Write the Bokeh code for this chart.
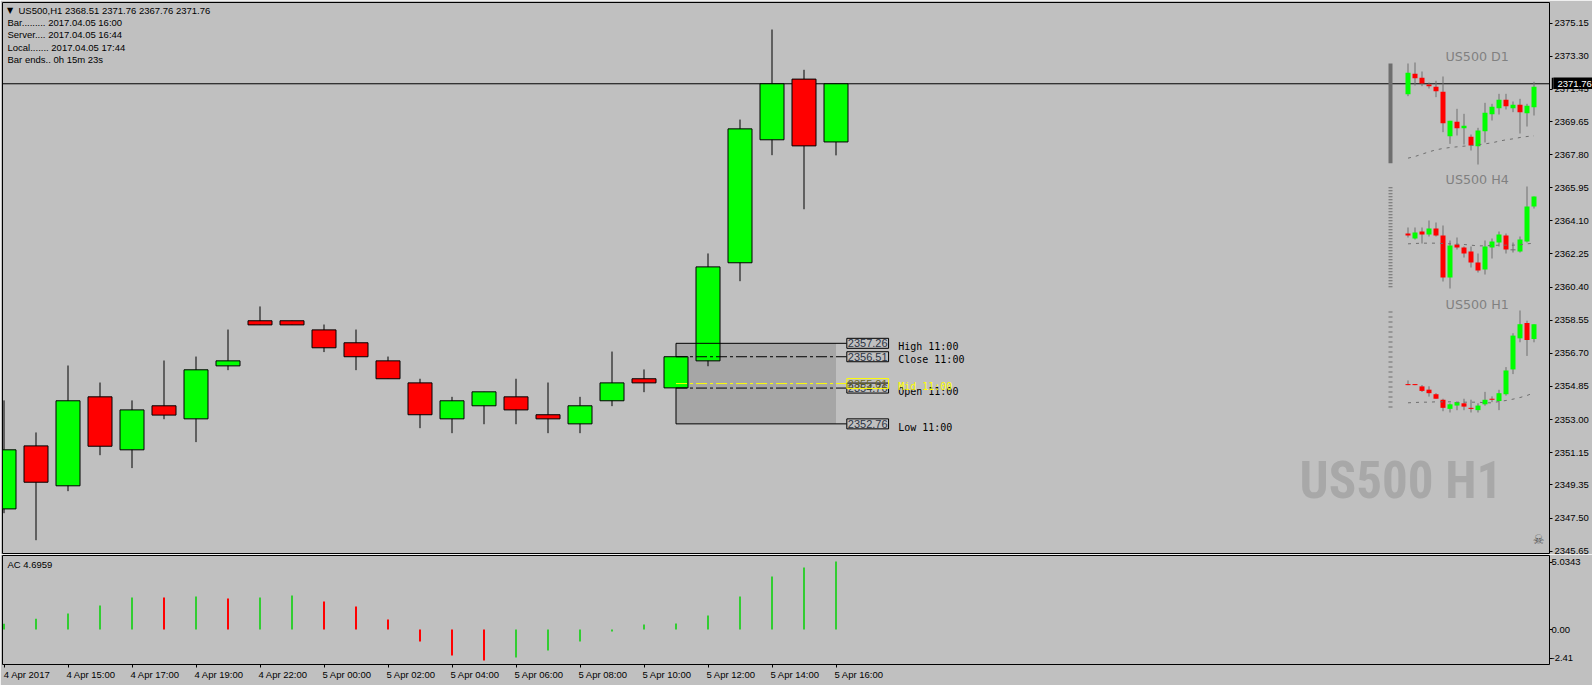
from bokeh.plotting import figure
from bokeh.layouts import column
from bokeh.models import (Range1d, ColumnDataSource, Label, Span, FixedTicker, LinearAxis)
from bokeh.core.properties import value
from bokeh.embed import file_html
from bokeh.resources import INLINE

# ---------- H1 candles ----------
h1_open  = [2348.01,2351.53,2349.30,2354.27,2351.31,2353.77,2353.04,2356.00,2358.52,2358.52,2358.01,
            2357.29,2356.28,2355.05,2353.04,2353.77,2354.27,2353.27,2352.76,2354.05,2355.28,2354.77,
            2356.28,2361.76,2368.63,2372.02,2368.51]
h1_high  = [2354.07,2352.28,2356.02,2355.07,2354.07,2356.30,2356.52,2358.03,2359.32,2358.52,2358.31,
            2358.03,2356.52,2355.28,2354.27,2354.55,2355.28,2355.07,2354.27,2356.80,2355.80,2357.26,
            2362.28,2369.76,2374.79,2372.54,2371.76]
h1_low   = [2347.77,2346.26,2349.00,2351.01,2350.29,2353.02,2351.74,2355.76,2358.29,2358.29,2356.77,
            2355.76,2355.28,2352.52,2352.24,2352.74,2352.74,2352.24,2352.24,2353.75,2354.53,2352.76,
            2355.98,2360.73,2367.77,2364.75,2367.76]
h1_close = [2351.31,2349.50,2354.05,2351.51,2353.54,2353.25,2355.78,2356.28,2358.29,2358.29,2357.01,
            2356.51,2355.28,2353.27,2354.05,2354.55,2353.54,2353.04,2353.77,2355.05,2355.05,2356.51,
            2361.53,2369.24,2371.76,2368.29,2371.76]
x_tick_labels = ["4 Apr 2017","4 Apr 15:00","4 Apr 17:00","4 Apr 19:00","4 Apr 22:00","5 Apr 00:00","5 Apr 02:00",
                 "5 Apr 04:00","5 Apr 06:00","5 Apr 08:00","5 Apr 10:00","5 Apr 12:00","5 Apr 14:00","5 Apr 16:00"]
price_ticks = [2375.15,2373.30,2371.45,2369.65,2367.80,2365.95,2364.10,2362.25,2360.40,2358.55,2356.70,
               2354.85,2353.00,2351.15,2349.35,2347.50,2345.65]

# ---------- Accelerator oscillator ----------
ac_values = [0.39,0.74,1.10,1.66,2.21,2.21,2.28,2.14,2.21,2.35,1.93,1.59,0.69,
             -0.83,-1.80,-2.14,-1.93,-1.45,-0.83,-0.14,0.35,0.41,0.97,2.28,3.66,4.28,4.6959]
ac_rising = [1,1,1,1,1,0,1,0,1,1,0,0,0,0,0,0,1,1,1,1,1,1,1,1,1,1,1]
ac_tick_pos = [4.63,0.0,-1.98]
ac_tick_labels = ["5.0343","0.00","-2.41"]

# ---------- Period range of the previous bar ----------
range_high, range_low, range_open, range_close, range_mid = 2357.26, 2352.76, 2354.76, 2356.51, 2355.01
current_price = 2371.76

# ---------- Mini chart D1 ----------
d1_open  = [2367.4,2379.6,2377.2,2373.2,2371.8,2368.8,2342.2,2350.8,2347.0,2341.8,2336.2,2345.2,2355.4,2359.0,2364.0,2359.0,2361.0,2356.0,2359.6]
d1_high  = [2385.8,2386.4,2381.0,2374.4,2375.4,2378.0,2351.4,2358.6,2355.6,2343.2,2347.2,2362.2,2361.6,2367.6,2367.6,2363.0,2364.6,2361.6,2374.8]
d1_low   = [2366.2,2372.6,2372.2,2370.8,2365.6,2344.6,2337.6,2342.6,2337.2,2333.6,2325.2,2338.4,2351.6,2355.2,2358.2,2356.6,2343.8,2348.0,2354.6]
d1_close = [2380.2,2377.0,2373.8,2372.2,2369.2,2350.0,2351.4,2347.0,2348.4,2336.6,2345.6,2356.2,2359.8,2364.0,2360.2,2361.0,2356.6,2360.4,2371.8]
d1_ma    = [2329.0,2330.0,2331.4,2332.8,2334.0,2334.8,2335.4,2335.8,2336.2,2336.6,2337.0,2337.6,2338.2,2339.2,2340.0,2340.6,2341.4,2342.0,2342.4]
d1_span  = (2385.8,2326.0)

# ---------- Mini chart H4 ----------
h4_open  = [2361.1,2359.6,2361.7,2360.8,2362.6,2360.5,2347.9,2357.8,2356.9,2355.7,2352.4,2350.3,2356.9,2358.4,2360.5,2356.2,2355.7,2358.7,2369.2]
h4_high  = [2362.9,2362.9,2362.9,2365.0,2364.4,2363.5,2359.0,2359.9,2357.2,2357.2,2355.1,2359.0,2359.6,2361.7,2361.1,2358.4,2360.2,2375.2,2372.2]
h4_low   = [2359.9,2359.3,2358.1,2360.2,2360.2,2346.7,2344.6,2356.3,2353.9,2350.9,2349.4,2348.8,2353.6,2357.2,2355.1,2355.4,2355.4,2358.4,2368.6]
h4_close = [2360.5,2361.4,2360.8,2362.6,2360.5,2347.9,2357.5,2356.9,2355.1,2352.4,2350.0,2357.2,2358.7,2360.8,2356.3,2356.2,2359.3,2369.2,2372.2]
h4_ma    = [2358.0,2358.1,2358.2,2358.2,2358.2,2358.1,2358.0,2357.9,2357.8,2357.6,2357.4,2357.4,2357.5,2357.6,2357.6,2357.6,2357.7,2358.0,2358.2]
h4_span  = (2375.0,2345.0)

# ---------- Mini chart H1 (last 19 bars of the main series) ----------
m1_ma    = [2354.38,2354.45,2354.52,2354.52,2354.60,2354.60,2354.60,2354.52,2354.52,2354.52,2354.52,2354.38,2354.38,2354.67,2354.89,2355.19,2355.55,2356.00,2356.59]
m1_span  = (2374.57,2353.05)

BG, GREEN, RED, DIM = "#c0c0c0", "#00ff00", "#ff0000", "#6e6e6e"
UI = "Liberation Sans"
UI_SIZE = "9.5px"
F_LEFT, F_RIGHT, F_TOP, F_BOT = 2, 1549, 2, 553
PX_PER_PRICE = 17.9

def main_x(px):  return (px - 3.5) / 32
def mini_x(px):  return (px - 1407.5) / 7
def price_range(p0, y0, ppp):
    return Range1d(start=p0 - (F_BOT - y0) * ppp, end=p0 - (F_TOP - y0) * ppp)

x_rng = Range1d(start=main_x(F_LEFT), end=main_x(F_RIGHT))
y_rng = Range1d(start=2373.30 - (F_BOT - 55.7) / PX_PER_PRICE, end=2373.30 - (F_TOP - 55.7) / PX_PER_PRICE)

p = figure(width=1592, height=554, frame_width=F_RIGHT - F_LEFT, frame_height=F_BOT - F_TOP,
           min_border_left=F_LEFT, min_border_right=1592 - F_RIGHT, min_border_top=F_TOP, min_border_bottom=1,
           x_range=x_rng, y_range=y_rng, x_axis_location=None, y_axis_location="right",
           output_backend="svg", toolbar_location=None, background_fill_color=BG, border_fill_color=BG,
           outline_line_color="black", outline_line_width=1)
p.grid.visible = False
p.extra_x_ranges = {"mini": Range1d(start=mini_x(F_LEFT), end=mini_x(F_RIGHT))}
p.extra_y_ranges = {"d1": price_range(2405.6, 30, 0.6), "h4": price_range(2380.0, 170, 0.3),
                    "m1": price_range(2374.79, 310, 0.2211)}

ya = p.yaxis[0]
ya.ticker = FixedTicker(ticks=price_ticks)
ya.major_label_overrides = {t: f"{t:.2f}" for t in price_ticks}
ya.major_tick_out, ya.major_tick_in, ya.minor_tick_out, ya.minor_tick_in = 3, 0, 0, 0
ya.major_label_standoff = 2
ya.major_label_text_font, ya.major_label_text_font_size, ya.major_label_text_color = UI, UI_SIZE, "black"
ya.axis_line_color = None

def sx(px): return px - F_LEFT

def add_text(text, px, py, size=UI_SIZE, color="black", font=UI, align="left", style="normal", fig=None, bottom=F_BOT, **kw):
    (fig or p).add_layout(Label(x=sx(px), y=bottom - py, x_units="screen", y_units="screen", text=text,
                                text_font=font, text_font_size=size, text_color=color, text_align=align,
                                text_baseline="middle", text_font_style=style, **kw))

# -- Period box, under the candles
p.quad(left=[21], right=[26], bottom=[range_low], top=[range_high], fill_color="#a6a6a6", line_color=None, level="underlay")
p.add_layout(Span(location=current_price, dimension="width", line_color="black", line_width=1, level="underlay"))

def candles(o, h, l, c, xs, outlined, x_name="default", y_name="default"):
    col = [GREEN if cc > oo else RED if cc < oo else DIM for oo, cc in zip(o, c)]
    src = ColumnDataSource(dict(x=xs, h=h, l=l, top=[max(a, b) for a, b in zip(o, c)],
                                bot=[min(a, b) for a, b in zip(o, c)], col=col))
    kw = dict(source=src, x_range_name=x_name, y_range_name=y_name)
    p.segment("x", "h", "x", "l", line_color="black" if outlined else DIM, line_width=1, **kw)
    if outlined:
        p.vbar("x", width=24 / 32, top="top", bottom="bot", fill_color="col", line_color="black", line_width=1, **kw)
    else:
        p.vbar("x", width=5 / 7, top="top", bottom="bot", fill_color="col", line_color=None, **kw)
        dj = [i for i, (a, b) in enumerate(zip(o, c)) if a == b]
        if dj:
            p.segment([xs[i] - 0.36 for i in dj], [o[i] for i in dj], [xs[i] + 0.36 for i in dj], [o[i] for i in dj],
                      line_color=DIM, line_width=1, x_range_name=x_name, y_range_name=y_name)

xs = list(range(len(h1_open)))
candles(h1_open, h1_high, h1_low, h1_close, xs, True)

# -- Period lines above the candles
xbox = main_x(846)
p.segment([21, 21], [range_high, range_low], [xbox, xbox], [range_high, range_low], line_color="black", line_width=1)
p.segment([21, 21], [range_close, range_open], [xbox, xbox], [range_close, range_open], line_color="black",
          line_width=1, line_dash="11 3 3 3")
p.segment([21], [range_mid], [xbox], [range_mid], line_color="#ffff00", line_width=1, line_dash="11 3 3 3")

BOX = "#2c3444"
def price_box(val, line, color=BOX):
    p.add_layout(Label(x=26, y=val, x_offset=867.2 - 835.5, text=f"{val:.2f}", text_align="center", text_baseline="middle",
                       text_font=UI, text_font_size="11px", text_color=color, border_line_color=line, border_line_width=1,
                       padding=1))
def right_text(txt, val, off, color="black"):
    p.add_layout(Label(x=26, y=val, x_offset=897.7 - 835.5, y_offset=off, text=txt, text_align="left", text_baseline="middle",
                       text_font="DejaVu Sans Mono", text_font_size="10px", text_color=color))
price_box(range_high, "black"); price_box(range_close, "black"); price_box(range_open, "black"); price_box(range_low, "black")
right_text("High 11:00", range_high, -3); right_text("Close 11:00", range_close, -3)
right_text("Open 11:00", range_open, -3); right_text("Low 11:00", range_low, -3.4)
price_box(range_mid, "#ffff00", "#6d6a20"); right_text("Mid 11:00", range_mid, -2.7, "#ffff00")

# -- Mini charts
mk = list(range(19))
candles(d1_open, d1_high, d1_low, d1_close, mk, False, "mini", "d1")
candles(h4_open, h4_high, h4_low, h4_close, mk, False, "mini", "h4")
candles(h1_open[8:], h1_high[8:], h1_low[8:], h1_close[8:], mk, False, "mini", "m1")
for ma, name, span, dash in ((d1_ma, "d1", d1_span, "solid"), (h4_ma, "h4", h4_span, "1 2"), (m1_ma, "m1", m1_span, "1 4")):
    p.line(mk, ma, line_color=DIM, line_width=1, line_dash="3 5", x_range_name="mini", y_range_name=name)
    bx = mini_x(1390)
    p.segment([bx], [span[0]], [bx], [span[1]], line_color=DIM, line_width=4, line_dash=dash, x_range_name="mini", y_range_name=name)

add_text("US500 D1", 1476.7, 55.7, size="12.7px", color="#808080", font="DejaVu Sans", align="center")
add_text("US500 H4", 1476.7, 179, size="12.7px", color="#808080", font="DejaVu Sans", align="center")
add_text("US500 H1", 1476.7, 304, size="12.7px", color="#808080", font="DejaVu Sans", align="center")
add_text("US500 H1", 1400.5, 480, size="51px", color="#a8a8a8", font="Roboto Condensed", align="center", style="bold")
add_text("\u2620", 1538, 539, size="13px", color="#555555", font="DejaVu Sans", align="center")

add_text("\u25bc", 9.7, 9.7, size="8px", font="DejaVu Sans", align="center")
add_text(f"US500,H1  {h1_open[-1]:.2f} {h1_high[-1]:.2f} {h1_low[-1]:.2f} {h1_close[-1]:.2f}", 18, 9.7)
add_text("Bar......... 2017.04.05 16:00", 7, 22)
add_text("Server.... 2017.04.05 16:44", 7, 34)
add_text("Local....... 2017.04.05 17:44", 7, 46.5)
add_text("Bar ends.. 0h 15m 23s", 7, 58.5)

# ---------- Oscillator pane ----------
AC_TOP, AC_BOT, AC_ZERO, AC_K = 555, 664, 629, 14.48
q = figure(width=1592, height=685 - 554, frame_width=F_RIGHT - F_LEFT, frame_height=AC_BOT - AC_TOP,
           min_border_left=F_LEFT, min_border_right=1592 - F_RIGHT, min_border_top=AC_TOP - 554, min_border_bottom=685 - AC_BOT,
           x_range=x_rng, y_range=Range1d(start=(AC_ZERO - AC_BOT) / AC_K, end=(AC_ZERO - AC_TOP) / AC_K),
           y_axis_location="right", output_backend="svg", toolbar_location=None,
           background_fill_color=BG, border_fill_color=BG, outline_line_color="black", outline_line_width=1)
q.grid.visible = False
q.segment(xs, [0] * len(xs), xs, ac_values, line_width=2,
          line_color=["#32cd32" if r else RED for r in ac_rising])
qy = q.yaxis[0]
qy.ticker = FixedTicker(ticks=ac_tick_pos)
qy.major_label_overrides = dict(zip(ac_tick_pos, ac_tick_labels))
qy.major_tick_out, qy.major_tick_in, qy.minor_tick_out, qy.minor_tick_in = 3, 0, 0, 0
qy.major_label_standoff = -1
qy.major_label_text_font, qy.major_label_text_font_size, qy.major_label_text_color = UI, UI_SIZE, "black"
qy.axis_line_color = None

tick_bars = xs[0::2]
label_pos = [b + 23 / 32 for b in tick_bars]
qx = q.xaxis[0]
qx.ticker = FixedTicker(ticks=label_pos, minor_ticks=tick_bars)
qx.major_label_overrides = dict(zip(label_pos, x_tick_labels))
qx.major_tick_in, qx.major_tick_out, qx.minor_tick_in, qx.minor_tick_out = 0, 0, 0, 3
qx.major_tick_line_color = None
qx.major_label_standoff = 1
qx.major_label_text_font, qx.major_label_text_font_size, qx.major_label_text_color = UI, UI_SIZE, "black"
qx.axis_line_color = None
add_text(f"AC {ac_values[-1]:.4f}", 7, 564, fig=q, bottom=AC_BOT)

# ---------- Current-price flag, a small figure of its own above the axis ----------
FLAG_W, FLAG_H = 41, 12
flag_top = F_TOP + (y_rng.end - current_price) * PX_PER_PRICE - FLAG_H / 2
flag = figure(width=FLAG_W, height=FLAG_H, frame_width=FLAG_W, frame_height=FLAG_H, min_border=0,
              x_range=Range1d(0, FLAG_W), y_range=Range1d(0, FLAG_H),
              x_axis_location=None, y_axis_location=None, output_backend="svg", toolbar_location=None,
              background_fill_color="black", border_fill_color="black", outline_line_color=None,
              styles={"position": "absolute", "left": "1551px", "top": f"{flag_top:.0f}px"})
flag.grid.visible = False
flag.add_layout(Label(x=4, y=FLAG_H / 2, text=f"{current_price:.2f}", text_color="white", text_baseline="middle",
                      text_align="left", text_font=UI, text_font_size=UI_SIZE))

layout = column(p, q, flag, spacing=0, styles={"position": "absolute", "left": "0px", "top": "0px"})
open("out.html", "w").write(file_html(layout, INLINE))
